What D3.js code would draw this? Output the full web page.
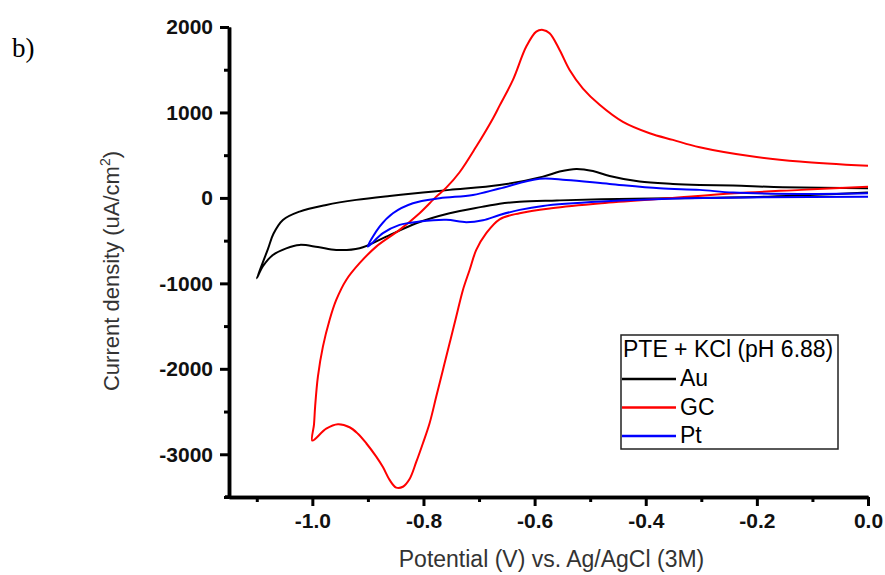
<!DOCTYPE html>
<html>
<head>
<meta charset="utf-8">
<script src="https://cdn.jsdelivr.net/npm/d3@7"></script>
<style>
  body { margin: 0; background: #fff; }
  svg { display: block; font-family: "Liberation Sans", Arial, sans-serif; }
  .tick text { font-weight: bold; font-size: 21px; fill: #111; }
</style>
</head>
<body>
<script>
// cyclic voltammograms, [potential V, current density uA/cm2], in sweep order
const auData = [
  [0, 62], [-0.18, 15], [-0.36, -4], [-0.48, -15], [-0.56, -30], [-0.627, -45],
  [-0.663, -68], [-0.695, -105], [-0.753, -179], [-0.813, -296], [-0.867, -453],
  [-0.915, -589], [-0.957, -609], [-0.99, -575], [-1.023, -550], [-1.047, -590],
  [-1.071, -668], [-1.089, -800], [-1.1, -942],
  [-1.08, -600], [-1.07, -420], [-1.053, -258], [-1.023, -160], [-0.975, -82],
  [-0.921, -23], [-0.861, 23], [-0.801, 62], [-0.753, 94], [-0.663, 150],
  [-0.585, 249], [-0.555, 308], [-0.525, 339], [-0.495, 315], [-0.465, 257],
  [-0.411, 191], [-0.351, 164], [-0.303, 152], [-0.243, 144], [-0.153, 125], [0, 114]
];
const gcData = [
  [0, 132], [-0.12, 94], [-0.24, 55], [-0.36, -4], [-0.48, -62], [-0.57, -121],
  [-0.627, -179], [-0.663, -250], [-0.687, -413], [-0.705, -609], [-0.717, -843],
  [-0.729, -1077], [-0.741, -1389], [-0.753, -1701], [-0.765, -2013], [-0.777, -2325],
  [-0.789, -2637], [-0.801, -2871], [-0.813, -3090], [-0.825, -3290], [-0.837, -3380],
  [-0.849, -3390], [-0.861, -3300], [-0.873, -3150], [-0.885, -3028], [-0.903, -2871],
  [-0.918, -2760], [-0.933, -2684], [-0.954, -2649], [-0.975, -2700], [-1.0, -2840],
  [-0.997, -2650], [-0.995, -2442], [-0.99, -2091], [-0.981, -1740], [-0.969, -1428],
  [-0.957, -1194], [-0.939, -960], [-0.915, -764], [-0.885, -570], [-0.843, -374],
  [-0.807, -179], [-0.777, 15], [-0.759, 120], [-0.735, 300], [-0.705, 601],
  [-0.675, 930], [-0.663, 1080], [-0.639, 1381], [-0.615, 1771], [-0.597, 1946],
  [-0.585, 1966], [-0.573, 1927], [-0.555, 1732], [-0.537, 1498], [-0.513, 1280],
  [-0.483, 1090], [-0.441, 890], [-0.393, 757], [-0.351, 679], [-0.303, 593],
  [-0.213, 490], [-0.123, 426], [0, 375]
];
const ptData = [
  [0, 15], [-0.18, 8], [-0.33, -4], [-0.48, -43], [-0.585, -94], [-0.627, -140],
  [-0.663, -200], [-0.693, -262], [-0.723, -284], [-0.759, -257], [-0.807, -277],
  [-0.843, -316], [-0.873, -413], [-0.9, -570],
  [-0.879, -336], [-0.855, -179], [-0.819, -62], [-0.771, -4], [-0.711, 35],
  [-0.663, 110], [-0.591, 225], [-0.543, 211], [-0.465, 164], [-0.375, 113],
  [-0.303, 94], [-0.243, 62], [-0.123, 47], [0, 55]
];

const seriesNames = ['Au', 'GC', 'Pt'];
const seriesColors = ['#000000', '#ff0000', '#0000ff'];
const seriesData = [auData, gcData, ptData];

const xMajorTicks = [-1.0, -0.8, -0.6, -0.4, -0.2, 0.0];
const xMinorTicks = [-1.1, -0.9, -0.7, -0.5, -0.3, -0.1];
const yMajorTicks = [2000, 1000, 0, -1000, -2000, -3000];
const yMinorTicks = [1500, 500, -500, -1500, -2500, -3500];

const legendTitle = 'PTE + KCl (pH 6.88)';
const xTitle = 'Potential (V) vs. Ag/AgCl (3M)';
const panelLabel = 'b)';

const width = 885, height = 575;
const plot = { left: 229, right: 868, top: 27, bottom: 497 };

const svg = d3.select('body').append('svg')
  .attr('width', width)
  .attr('height', height);

const x = d3.scaleLinear().domain([-1.15, 0]).range([plot.left, plot.right]);
const y = d3.scaleLinear().domain([-3500, 2000]).range([plot.bottom, plot.top]);

// curves
const line = d3.line()
  .x(d => x(d[0]))
  .y(d => y(d[1]))
  .curve(d3.curveCatmullRom.alpha(0.5));

svg.append('g').selectAll('path')
  .data(seriesData)
  .enter().append('path')
  .attr('d', line)
  .attr('fill', 'none')
  .attr('stroke', (d, i) => seriesColors[i])
  .attr('stroke-width', 2)
  .attr('stroke-linejoin', 'round');

// axes
const xAxis = d3.axisBottom(x).tickValues(xMajorTicks).tickFormat(d3.format('.1f'))
  .tickSize(9).tickSizeOuter(0).tickPadding(7);
const xMinor = d3.axisBottom(x).tickValues(xMinorTicks).tickFormat('').tickSize(5).tickSizeOuter(0);
const yAxis = d3.axisLeft(y).tickValues(yMajorTicks).tickFormat(d3.format('d'))
  .tickSize(9).tickSizeOuter(0).tickPadding(7);
const yMinor = d3.axisLeft(y).tickValues(yMinorTicks).tickFormat('').tickSize(5).tickSizeOuter(0);

const fixMinus = g => g.selectAll('text').text(function () { return this.textContent.replace('\u2212', '-'); });

svg.append('g').attr('transform', `translate(0, ${plot.bottom})`).call(xAxis).call(fixMinus);
svg.append('g').attr('transform', `translate(0, ${plot.bottom})`).call(xMinor);
svg.append('g').attr('transform', `translate(${plot.left}, 0)`).call(yAxis).call(fixMinus);
svg.append('g').attr('transform', `translate(${plot.left}, 0)`).call(yMinor);

svg.selectAll('.domain').attr('stroke', '#000').attr('stroke-width', 3.5);
svg.selectAll('.tick line').attr('stroke', '#000').attr('stroke-width', 3);
// close the corner where the axes meet
svg.append('line')
  .attr('x1', plot.left - 4).attr('x2', plot.left + 2)
  .attr('y1', plot.bottom).attr('y2', plot.bottom)
  .attr('stroke', '#000').attr('stroke-width', 3.5);

// axis titles
svg.append('text')
  .attr('x', (plot.left + plot.right) / 2 + 3)
  .attr('y', 567)
  .attr('text-anchor', 'middle')
  .attr('font-size', 23)
  .attr('fill', '#333')
  .text(xTitle);

const yt = svg.append('text')
  .attr('transform', 'translate(119, 271) rotate(-90)')
  .attr('text-anchor', 'middle')
  .attr('font-size', 22)
  .attr('fill', '#333');
yt.append('tspan').text('Current density (uA/cm');
yt.append('tspan').attr('font-size', 14).attr('dy', -9).text('2');
yt.append('tspan').attr('dy', 9).text(')');

svg.append('text')
  .attr('x', 12).attr('y', 57)
  .attr('font-family', '"Liberation Serif", "Times New Roman", serif')
  .attr('font-size', 27)
  .attr('fill', '#000')
  .text(panelLabel);

// legend
const legend = svg.append('g').attr('transform', 'translate(621, 335)');
legend.append('rect')
  .attr('width', 217).attr('height', 114)
  .attr('fill', '#fff').attr('stroke', '#222').attr('stroke-width', 1.5);
legend.append('text')
  .attr('x', 2).attr('y', 22)
  .attr('font-size', 23).attr('fill', '#000')
  .text(legendTitle);
const rows = legend.selectAll('.row').data(seriesNames).enter().append('g')
  .attr('class', 'row')
  .attr('transform', (d, i) => `translate(0, ${44 + i * 28.5})`);
rows.append('line')
  .attr('x1', 1).attr('x2', 55).attr('y1', 0).attr('y2', 0)
  .attr('stroke', (d, i) => seriesColors[i]).attr('stroke-width', 2.5);
rows.append('text')
  .attr('x', 59).attr('y', 7)
  .attr('font-size', 23).attr('fill', '#000')
  .text(d => d);
</script>
</body>
</html>
